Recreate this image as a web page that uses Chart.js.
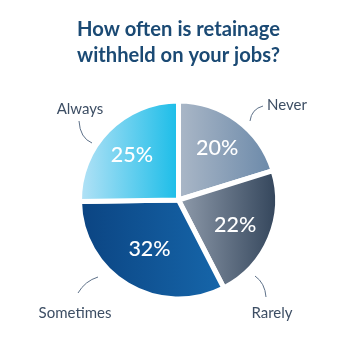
<!DOCTYPE html>
<html>
<head>
<meta charset="utf-8">
<script src="https://cdn.jsdelivr.net/npm/chart.js@4.4.1/dist/chart.umd.min.js"></script>
<style>
html,body{margin:0;padding:0;background:#fff;}
#wrap{width:360px;height:360px;}
</style>
</head>
<body>
<div id="wrap"><canvas id="c" width="360" height="360"></canvas></div>
<script>
// ---- data ----
const categories = ['Never', 'Rarely', 'Sometimes', 'Always'];
const percentValues = [20, 22, 32, 25];
const titleLines = ['How often is retainage', 'withheld on your jobs?'];

// ---- styles ----
const gradientStops = [
  ['#aab7c7', '#6b89a9'],
  ['#8f9bab', '#33455b'],
  ['#0b4482', '#1666aa'],
  ['#b4e2f6', '#1bbde8']
];
const labelRadius = [0.66, 0.62, 0.57, 0.66];
const outerLabelOffset = [[108.5, -95], [93.5, 113], [-103.5, 113], [-98.5, -91]];
const leaderCurves = [
  [[71.5, -79], [73, -91], [84.5, -94]],
  [[76.5, 76], [86.5, 83], [87.5, 97]],
  [[-100.5, 93], [-93.5, 81], [-80.5, 77]],
  [[-99.5, -79], [-98.5, -62], [-86.5, -57]]
];
const BORDER = 5;

function sliceGradient(context) {
  const chart = context.chart;
  const area = chart.chartArea;
  const i = context.dataIndex;
  if (!area) return gradientStops[i][1];
  const cx = (area.left + area.right) / 2;
  const r = (Math.min(area.right - area.left, area.bottom - area.top) - BORDER) / 2;
  const total = percentValues.reduce((a, b) => a + b, 0);
  let cum = 0;
  for (let k = 0; k < i; k++) cum += percentValues[k];
  const a0 = -Math.PI / 2 + cum / total * 2 * Math.PI;
  const a1 = a0 + percentValues[i] / total * 2 * Math.PI;
  const xs = [cx, cx + r * Math.cos(a0), cx + r * Math.cos(a1)];
  for (let m = -2; m <= 4; m++) {
    const ang = m * Math.PI;
    if (ang > a0 && ang < a1) xs.push(cx + r * Math.cos(ang));
  }
  const minX = Math.min(...xs), maxX = Math.max(...xs);
  const g = chart.ctx.createLinearGradient(minX, 0, maxX, 0);
  g.addColorStop(0, gradientStops[i][0]);
  g.addColorStop(1, gradientStops[i][1]);
  return g;
}

const labelPlugin = {
  id: 'sliceLabels',
  afterDatasetsDraw(chart) {
    const ctx = chart.ctx;
    const meta = chart.getDatasetMeta(0);
    ctx.save();
    meta.data.forEach((el, i) => {
      const mid = (el.startAngle + el.endAngle) / 2;
      const rr = el.outerRadius * labelRadius[i];
      ctx.fillStyle = '#ffffff';
      ctx.font = '500 21.5px Lato';
      ctx.textAlign = 'center';
      ctx.textBaseline = 'middle';
      ctx.fillText(percentValues[i] + '%', el.x + Math.cos(mid) * rr, el.y + Math.sin(mid) * rr + 1);

      // outer category label
      const off = outerLabelOffset[i];
      ctx.fillStyle = '#3d4e64';
      ctx.font = '15px Lato';
      ctx.fillText(categories[i], el.x + off[0], el.y + off[1]);

      // leader curve
      const c = leaderCurves[i];
      ctx.strokeStyle = '#5d7088';
      ctx.lineWidth = 1;
      ctx.beginPath();
      ctx.moveTo(el.x + c[0][0], el.y + c[0][1]);
      ctx.quadraticCurveTo(el.x + c[1][0], el.y + c[1][1], el.x + c[2][0], el.y + c[2][1]);
      ctx.stroke();
    });
    ctx.restore();
  }
};

new Chart(document.getElementById('c'), {
  type: 'pie',
  data: {
    labels: categories,
    datasets: [{
      data: percentValues,
      backgroundColor: sliceGradient,
      borderColor: '#ffffff',
      borderWidth: BORDER,
      hoverOffset: 0
    }]
  },
  options: {
    responsive: false,
    animation: false,
    events: [],
    layout: { padding: { left: 77, right: 80, top: 0, bottom: 58.5 } },
    plugins: {
      legend: { display: false },
      tooltip: { enabled: false },
      title: {
        display: true,
        text: titleLines,
        color: '#1b4a74',
        font: { family: 'Lato', size: 21, weight: 'bold', lineHeight: 26 / 21 },
        padding: { top: 16, bottom: 30.5 }
      }
    }
  },
  plugins: [labelPlugin]
});
</script>
</body>
</html>
